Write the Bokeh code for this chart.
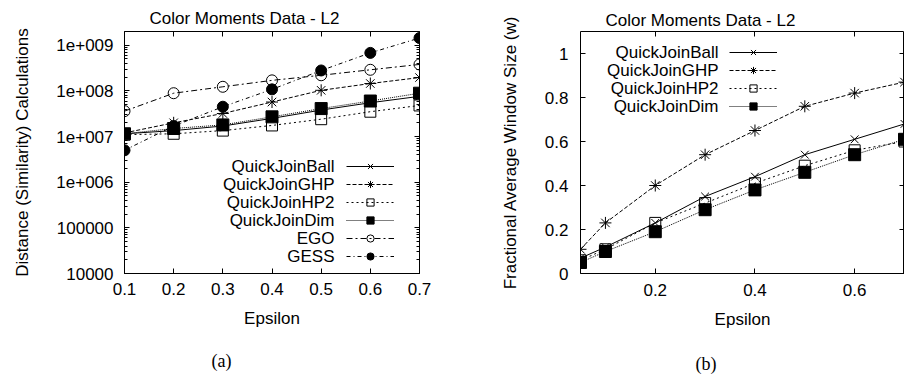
from bokeh.plotting import figure
from bokeh.layouts import row
from bokeh.models import (FixedTicker, LogTicker, LinearAxis, LogAxis, Legend,
                          LegendItem, Label, Title, Range1d)
from bokeh.core.properties import value
from bokeh.embed import file_html
from bokeh.resources import INLINE

FONT = "Liberation Sans"
SERIF = "Liberation Serif"

# ---------------- data: (a) distance calculations ----------------
eps_a = [0.1, 0.2, 0.3, 0.4, 0.5, 0.6, 0.7]
ball_a = [1.15e7, 1.35e7, 1.7e7, 2.5e7, 3.8e7, 5.5e7, 7.6e7]
ghp_a = [1.2e7, 2.0e7, 3.2e7, 5.7e7, 1.03e8, 1.45e8, 1.96e8]
hp2_a = [1.1e7, 1.15e7, 1.35e7, 1.75e7, 2.4e7, 3.5e7, 4.8e7]
dim_a = [1.15e7, 1.5e7, 1.8e7, 2.7e7, 4.1e7, 6.0e7, 8.9e7]
ego_a = [3.6e7, 8.9e7, 1.23e8, 1.7e8, 2.2e8, 2.9e8, 3.8e8]
gess_a = [5.0e6, 1.7e7, 4.5e7, 1.08e8, 2.8e8, 6.8e8, 1.44e9]
xticks_a = [0.1, 0.2, 0.3, 0.4, 0.5, 0.6, 0.7]
ytick_labels_a = {1e4: "10000", 1e5: "100000", 1e6: "1e+006",
                  1e7: "1e+007", 1e8: "1e+008", 1e9: "1e+009"}

# ---------------- data: (b) fractional window size ----------------
eps_b = [0.05, 0.1, 0.2, 0.3, 0.4, 0.5, 0.6, 0.7]
ball_b = [0.07, 0.12, 0.23, 0.35, 0.44, 0.54, 0.61, 0.68]
ghp_b = [0.11, 0.23, 0.40, 0.54, 0.65, 0.76, 0.82, 0.87]
hp2_b = [0.06, 0.11, 0.23, 0.32, 0.41, 0.49, 0.56, 0.60]
dim_b = [0.05, 0.10, 0.19, 0.29, 0.38, 0.46, 0.54, 0.61]
xticks_b = [0.2, 0.4, 0.6]
yticks_b = [0, 0.2, 0.4, 0.6, 0.8, 1.0]

names_a = ["QuickJoinBall", "QuickJoinGHP", "QuickJoinHP2", "QuickJoinDim", "EGO", "GESS"]
names_b = ["QuickJoinBall", "QuickJoinGHP", "QuickJoinHP2", "QuickJoinDim"]

STYLE = {
    "QuickJoinBall": dict(dash="solid", marker="x", fill=None, size=11),
    "QuickJoinGHP": dict(dash="4 2", marker="asterisk", fill=None, size=12),
    "QuickJoinHP2": dict(dash="2 3", marker="square", fill=None, size=11),
    "QuickJoinDim": dict(dash="1 1", marker="square", fill="black", size=12),
    "EGO": dict(dash="6 3 2 3", marker="circle", fill=None, size=11),
    "GESS": dict(dash="4 3 1 3", marker="circle", fill="black", size=11),
}


def tick_style(ax):
    ax.axis_line_color = None
    ax.major_tick_line_color = "black"
    ax.minor_tick_line_color = "black"
    ax.major_tick_in = 5
    ax.major_tick_out = 0
    ax.minor_tick_in = 3
    ax.minor_tick_out = 0


def style_fig(p, xax, yax, title_offset, title_standoff):
    p.xgrid.visible = False
    p.ygrid.visible = False
    p.outline_line_color = "black"
    p.outline_line_width = 1
    p.background_fill_color = "white"
    p.border_fill_color = "white"
    p.title.text_font = FONT
    p.title.text_font_size = "17px"
    p.title.text_font_style = "normal"
    p.title.text_color = "black"
    p.title.align = "left"
    p.title.offset = title_offset
    p.title.standoff = title_standoff
    for ax in (xax, yax):
        tick_style(ax)
        ax.major_label_text_font = FONT
        ax.major_label_text_font_size = "17px"
        ax.major_label_text_color = "black"
        ax.axis_label_text_font = FONT
        ax.axis_label_text_font_size = "17px"
        ax.axis_label_text_font_style = "normal"
        ax.axis_label_text_color = "black"


def add_mirror(p, xticker, yticker, log_y):
    top = LinearAxis(ticker=xticker)
    right = LogAxis(ticker=yticker) if log_y else LinearAxis(ticker=yticker)
    for ax in (top, right):
        tick_style(ax)
        ax.major_label_text_font_size = "1px"
        ax.major_label_text_color = None
        ax.major_label_standoff = 0
    top.minor_tick_line_color = None
    p.add_layout(top, "above")
    p.add_layout(right, "right")


def draw_series(p, xs, series, names):
    items = []
    for name, ys in zip(names, series):
        st = STYLE[name]
        lr = p.line(xs, ys, line_color="black", line_width=1, line_dash=st["dash"])
        sr = p.scatter(xs, ys, marker=st["marker"], size=st["size"],
                       line_color="black", line_width=1,
                       fill_color=st["fill"], fill_alpha=1 if st["fill"] else 0)
        items.append(LegendItem(label=value(" "), renderers=[lr, sr]))
    return items


def add_legend(p, items, names, leg_x, leg_y, text_x):
    n = len(items)
    gh = 18
    leg = Legend(items=items, location=(leg_x, leg_y), orientation="vertical",
                 glyph_width=48, glyph_height=gh, label_height=gh,
                 label_standoff=0, spacing=0, padding=0, margin=0,
                 border_line_color=None, background_fill_alpha=0,
                 label_text_font_size="10px")
    p.add_layout(leg)
    for i, name in enumerate(names):
        yc = leg_y + gh / 2 + (n - 1 - i) * gh
        p.add_layout(Label(x=text_x, y=yc, x_units="screen", y_units="screen",
                           text=name, text_align="right", text_baseline="middle",
                           text_font=FONT, text_font_size="17px",
                           text_color="black"))


def add_caption(p, text, offset, line_height):
    # leading blank line pushes the caption down below the axis label
    p.add_layout(Title(text="\n" + text, align="left", offset=offset,
                       vertical_align="bottom", standoff=0,
                       text_font=SERIF, text_font_size="18px",
                       text_font_style="normal", text_color="black",
                       text_line_height=line_height), "below")


# ---------------- figure (a) ----------------
p1 = figure(width=460, height=377, y_axis_type="log",
            x_range=Range1d(0.1, 0.7), y_range=Range1d(1e4, 2e9),
            title="Color Moments Data - L2",
            output_backend="svg", toolbar_location=None,
            min_border_left=124, min_border_right=41,
            min_border_top=30, min_border_bottom=101)
xa1, ya1 = p1.below[0], p1.left[0]
xa1.ticker = FixedTicker(ticks=xticks_a)
ya1.ticker = LogTicker(num_minor_ticks=10)
ya1.major_label_overrides = ytick_labels_a
xa1.axis_label = "Epsilon"
ya1.axis_label = "Distance (Similarity) Calculations"
add_mirror(p1, FixedTicker(ticks=xticks_a), LogTicker(num_minor_ticks=10), True)
style_fig(p1, xa1, ya1, 25, 7)
ya1.major_label_standoff = 11
ya1.axis_label_standoff = 21
xa1.major_label_standoff = 9
xa1.axis_label_standoff = 11
items_a = draw_series(p1, eps_a, [ball_a, ghp_a, hp2_a, dim_a, ego_a, gess_a], names_a)
add_legend(p1, items_a, names_a, 222, 8, 210)
add_caption(p1, "(a)", 87, 0.9)

# ---------------- figure (b) ----------------
p2 = figure(width=444, height=377,
            x_range=Range1d(0.05, 0.7), y_range=Range1d(0, 1.1),
            title="Color Moments Data - L2",
            output_backend="svg", toolbar_location=None,
            min_border_left=120, min_border_right=0,
            min_border_top=31, min_border_bottom=104)
xa2, ya2 = p2.below[0], p2.left[0]
xa2.ticker = FixedTicker(ticks=xticks_b)
ya2.ticker = FixedTicker(ticks=yticks_b)
xa2.axis_label = "Epsilon"
ya2.axis_label = "Fractional Average Window Size (w)"
add_mirror(p2, FixedTicker(ticks=xticks_b), FixedTicker(ticks=yticks_b), False)
style_fig(p2, xa2, ya2, 25, 3)
ya2.major_label_standoff = 12
ya2.axis_label_standoff = 22
xa2.major_label_standoff = 10
xa2.axis_label_standoff = 11
items_b = draw_series(p2, eps_b, [ball_b, ghp_b, hp2_b, dim_b], names_b)
add_legend(p2, items_b, names_b, 149, 158, 138)
add_caption(p2, "(b)", 115, 1.0)

layout = row(p1, p2)
open("out.html", "w").write(file_html(layout, INLINE))
